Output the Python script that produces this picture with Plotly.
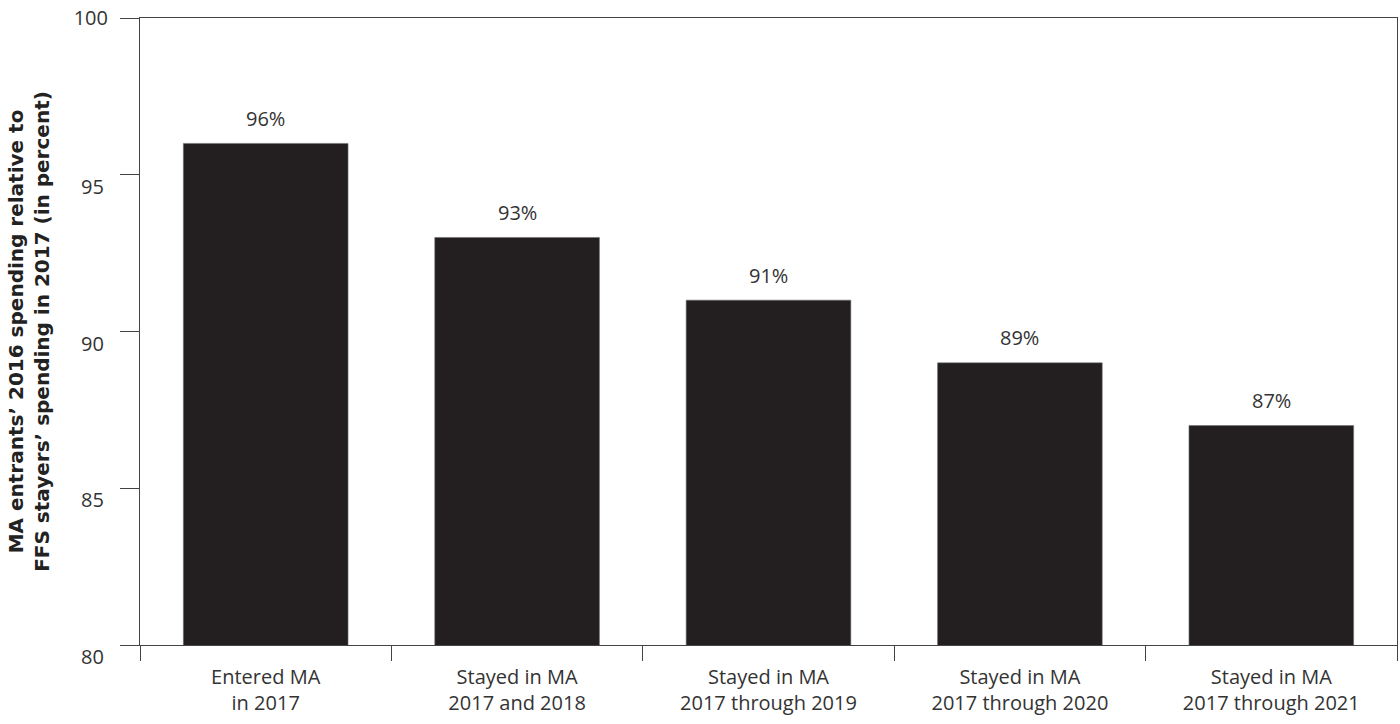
import plotly.graph_objects as go

categories = ["Entered MA<br>in 2017", "Stayed in MA<br>2017 and 2018", "Stayed in MA<br>2017 through 2019",
              "Stayed in MA<br>2017 through 2020", "Stayed in MA<br>2017 through 2021"]
values = [96, 93, 91, 89, 87]
labels = ["96%", "93%", "91%", "89%", "87%"]
y_ticks = [80, 85, 90, 95, 100]
y_range = [80, 100]

FONT = "Open Sans, Liberation Sans, sans-serif"
TXT = "#333333"
AX = "#444444"

fig = go.Figure()
fig.add_trace(go.Bar(
    x=categories, y=values,
    marker=dict(color="#231f20", line=dict(color="#6e6e6e", width=0.6)),
    width=0.655, hoverinfo="skip",
))
# invisible helper trace so the overlay axis (top tick label) is rendered
fig.add_trace(go.Scatter(
    x=categories, y=values, yaxis="y2", mode="markers",
    marker=dict(opacity=0), hoverinfo="skip", showlegend=False,
))
for c, v, t in zip(categories, values, labels):
    fig.add_annotation(x=c, y=v, text=t, showarrow=False, yshift=25,
                       font=dict(family=FONT, size=20, color=TXT))

fig.update_layout(
    width=1400, height=724,
    margin=dict(l=140, r=3, t=18, b=79),
    paper_bgcolor="white", plot_bgcolor="white",
    showlegend=False,
    font=dict(family=FONT, color=TXT),
    yaxis2=dict(
        overlaying="y", side="left", range=y_range, tickvals=[y_ticks[-1]],
        ticktext=[str(y_ticks[-1])], ticks="", showline=False, showgrid=False,
        zeroline=False, tickfont=dict(family=FONT, size=20, color=TXT),
        ticklabelstandoff=31,
    ),
)
fig.update_xaxes(
    type="category", tickson="boundaries", ticks="outside", ticklen=15,
    tickcolor=AX, tickwidth=1.2, showline=True, linecolor=AX, linewidth=1.2,
    mirror=True, showgrid=False, tickfont=dict(family=FONT, size=20, color=TXT),
    ticklabelstandoff=14,
)
fig.layout.yaxis.update(
    range=y_range, tickvals=y_ticks, ticktext=[str(v) for v in y_ticks[:-1]] + [""],
    ticks="outside", ticklen=19,
    tickcolor=AX, tickwidth=1.2, showline=True, linecolor=AX, linewidth=1.2,
    mirror=True, showgrid=False, zeroline=False,
    tickfont=dict(family=FONT, size=20, color=TXT), ticklabelshift=12,
    ticklabelstandoff=12,
    title=dict(text="<b>MA entrants’ 2016 spending relative to<br>FFS stayers’ spending in 2017 (in percent)</b>",
               font=dict(family="DejaVu Sans, Verdana, sans-serif", size=20, color="#222222"), standoff=26),
)
fig.write_html("out.html")
